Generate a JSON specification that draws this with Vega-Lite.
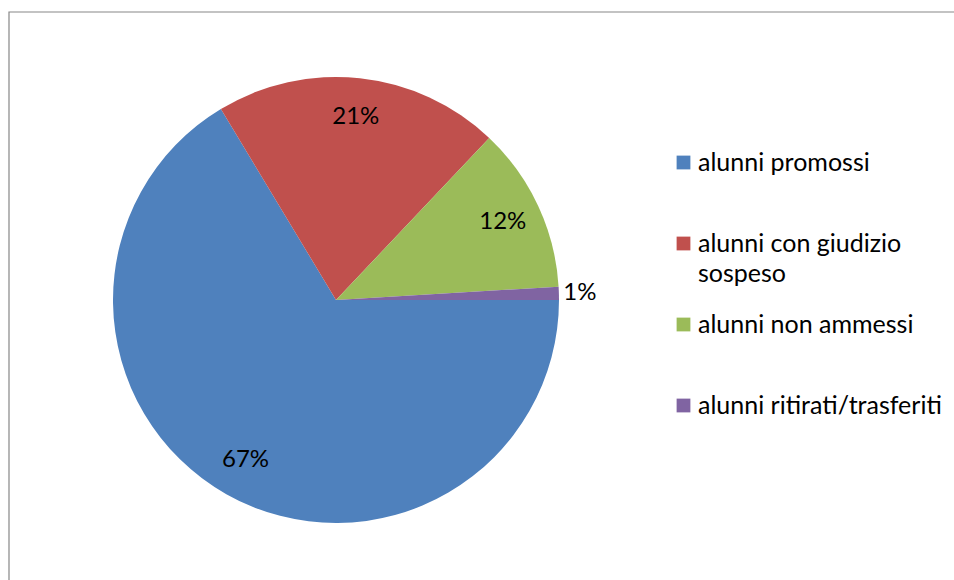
{
  "$schema": "https://vega.github.io/schema/vega-lite/v6.json",
  "width": 945,
  "height": 568,
  "autosize": "none",
  "padding": {"left": 9, "top": 12, "right": 0, "bottom": 0},
  "background": "white",
  "config": {
    "view": {"stroke": null},
    "font": "Lato",
    "style": {"guide-label": {"lineHeight": 30}}
  },
  "data": {
    "values": [
      {"cat": "alunni promossi", "o": 1, "v": 66.4, "label": "67%"},
      {"cat": "alunni con giudizio sospeso", "o": 2, "v": 20.7, "label": "21%"},
      {"cat": "alunni non ammessi", "o": 3, "v": 12.0, "label": "12%"},
      {"cat": "alunni ritirati/trasferiti", "o": 4, "v": 0.95, "label": "1%"}
    ]
  },
  "layer": [
    {
      "data": {"values": [{"frame": 1}]},
      "mark": {"type": "rect", "x": {"expr": "width / 2 + 20"}, "y": {"expr": "height / 2 + 20"}, "width": {"expr": "width + 40"}, "height": {"expr": "height + 40"}, "fill": null, "stroke": "#878787", "strokeWidth": 1.2},
      "encoding": {}
    },
    {
      "mark": {"type": "arc", "x": 327, "y": 288, "outerRadius": 223},
      "encoding": {
        "theta": {"field": "v", "type": "quantitative", "stack": true, "scale": {"range": [1.5708, 7.8540]}},
        "order": {"field": "o", "type": "quantitative"},
        "color": {
          "field": "cat",
          "type": "nominal",
          "sort": null,
          "scale": {
            "domain": ["alunni promossi", "alunni con giudizio sospeso", "alunni non ammessi", "alunni ritirati/trasferiti"],
            "range": ["#4F81BD", "#C0504D", "#9BBB59", "#8064A2"]
          },
          "legend": {
            "title": null,
            "orient": "none",
            "legendX": 662,
            "legendY": 138,
            "padding": 0,
            "gridAlign": "all",
            "symbolType": "square",
            "symbolSize": 190,
            "symbolStrokeWidth": 0,
            "labelFont": "Lato",
            "labelFontSize": 25,
            "labelColor": "#000000",
            "labelOffset": 2,
            "labelLimit": 400,
            "rowPadding": 25,
            "labelExpr": "datum.label == 'alunni con giudizio sospeso' ? ['alunni con giudizio', 'sospeso'] : datum.label"
          }
        }
      }
    },
    {
      "mark": {"type": "text", "x": 327, "y": 288, "radius": 184, "fontSize": 24, "font": "Lato", "color": "#000000"},
      "encoding": {
        "theta": {"field": "v", "type": "quantitative", "stack": true},
        "order": {"field": "o", "type": "quantitative"},
        "text": {"condition": {"test": "datum.v < 2", "value": ""}, "field": "label"}
      }
    },
    {
      "mark": {"type": "text", "x": 327, "y": 288, "radius": 244, "fontSize": 24, "font": "Lato", "color": "#000000"},
      "encoding": {
        "theta": {"field": "v", "type": "quantitative", "stack": true},
        "order": {"field": "o", "type": "quantitative"},
        "text": {"condition": {"test": "datum.v < 2", "field": "label"}, "value": ""}
      }
    }
  ]
}
